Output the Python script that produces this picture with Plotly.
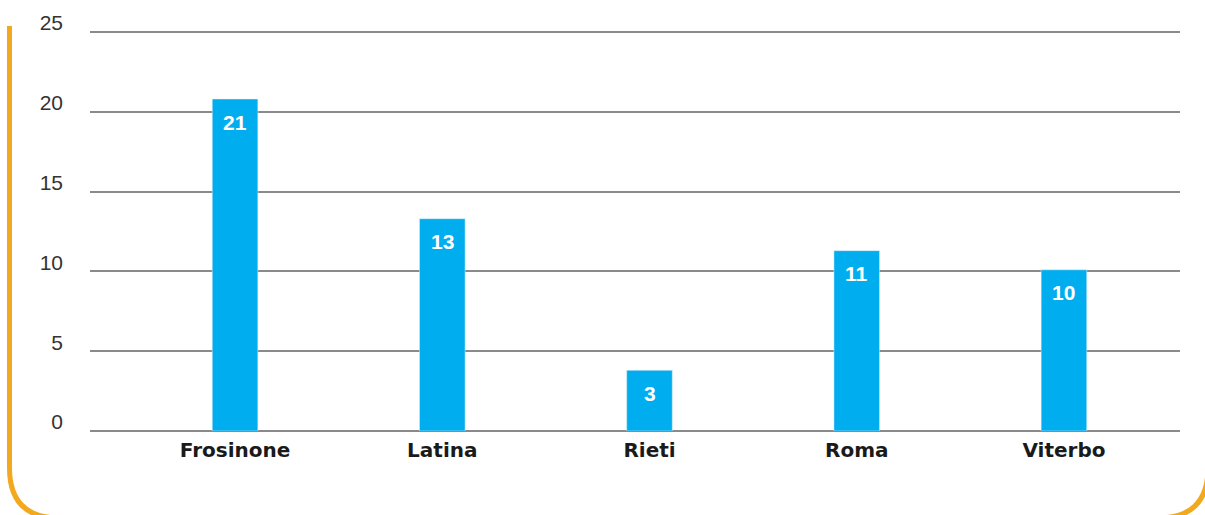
import plotly.graph_objects as go

categories = ["Frosinone", "Latina", "Rieti", "Roma", "Viterbo"]
values = [20.8, 13.3, 3.8, 11.3, 10.1]
value_labels = ["21", "13", "3", "11", "10"]
y_ticks = [0, 5, 10, 15, 20, 25]

W, H = 1205, 515
L, R, T, B = 90, 25, 28, 84
pw, ph = W - L - R, H - T - B
y_top = 25 + 4 * 25 / 399.0  # keeps 25 at y=32px


def px(x):
    return (x - L) / pw


def py(y):
    return (H - B - y) / ph


fig = go.Figure()
fig.add_trace(go.Bar(
    x=categories, y=values, marker_color="#00AEEF", width=0.22,
    hoverinfo="skip",
))

for c, v, t in zip(categories, values, value_labels):
    fig.add_annotation(x=c, y=v, text=f"<b>{t}</b>", showarrow=False,
                       yanchor="middle", yshift=-23,
                       font=dict(family="Liberation Sans, Arial, sans-serif", size=21, color="white"))

# orange rounded frame
x0, x1 = 9.5, 1208
yt, yb, r = 26, 518, 50
path = (f"M {px(x0)},{py(yt)} L {px(x0)},{py(yb - r)} "
        f"Q {px(x0)},{py(yb)} {px(x0 + r)},{py(yb)} "
        f"L {px(x1 - r)},{py(yb)} Q {px(x1)},{py(yb)} {px(x1)},{py(yb - r)}")
fig.add_shape(type="path", path=path, xref="paper", yref="paper",
              line=dict(color="#F2A91F", width=5), layer="above")

fig.update_layout(
    width=W, height=H,
    margin=dict(l=L, r=R, t=T, b=B, autoexpand=False),
    paper_bgcolor="white", plot_bgcolor="white",
    showlegend=False,
    xaxis=dict(
        range=[-0.7, 4.56], showgrid=False, zeroline=False, showline=False,
        automargin=False,
        ticks="", tickfont=dict(family="DejaVu Sans, sans-serif", size=20, color="#1a1a1a", weight="bold"),
        ticklabelstandoff=5,
    ),
    yaxis=dict(
        range=[0, y_top], tickvals=y_ticks, showgrid=True, gridcolor="#8a8a8a", gridwidth=2,
        zeroline=True, zerolinecolor="#8a8a8a", zerolinewidth=2, showline=False,
        automargin=False,
        ticks="", tickfont=dict(family="Liberation Sans, Arial, sans-serif", size=21, color="#333333"),
        ticklabelstandoff=26, ticklabelshift=-9,
    ),
)

fig.write_html("out.html", config={"displayModeBar": False},
               post_script="document.body.style.margin='0';document.body.style.overflow='hidden';")
